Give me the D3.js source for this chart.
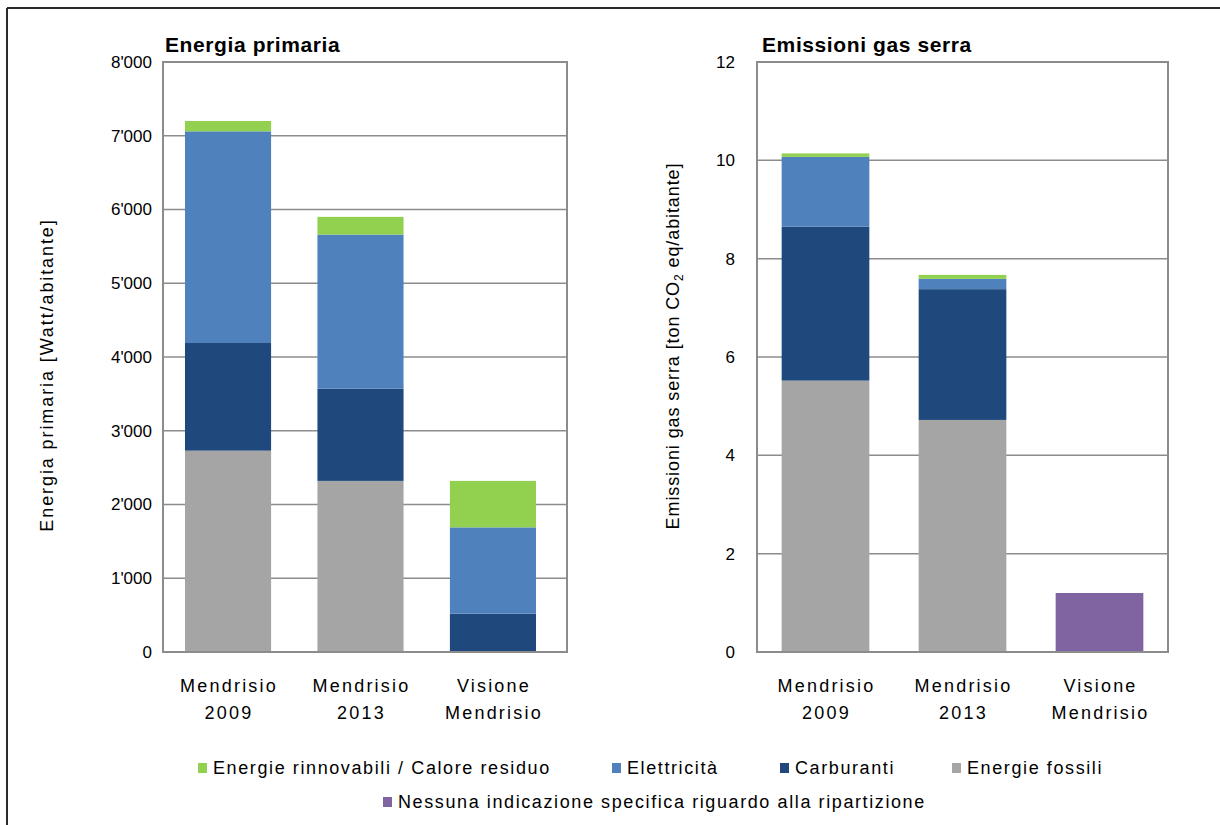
<!DOCTYPE html>
<html>
<head>
<meta charset="utf-8">
<script src="https://cdn.jsdelivr.net/npm/d3@7"></script>
<style>
  html, body { margin: 0; padding: 0; background: #fff; }
  svg { display: block; font-family: "Liberation Sans", Arial, sans-serif; }
</style>
</head>
<body>
<svg id="chart" width="1220" height="825"></svg>
<script>
// Categories (two-line labels)
const categories = ["Mendrisio 2009", "Mendrisio 2013", "Visione Mendrisio"];
const categoryLines = [["Mendrisio", "2009"], ["Mendrisio", "2013"], ["Visione", "Mendrisio"]];

// Primary energy [Watt/abitante]
const energyFossil = [2730, 2320, 0];
const energyFuel   = [1460, 1250, 520];
const energyElec   = [2870, 2090, 1170];
const energyRenew  = [140, 240, 630];
const energyTicks  = [0, 1000, 2000, 3000, 4000, 5000, 6000, 7000, 8000];

// Greenhouse gas emissions [ton CO2eq/abitante]
const emisFossil = [5.52, 4.72, 0];
const emisFuel   = [3.13, 2.66, 0];
const emisElec   = [1.42, 0.21, 0];
const emisRenew  = [0.07, 0.08, 0];
const emisNoSplit = [0, 0, 1.2];
const emisTicks  = [0, 2, 4, 6, 8, 10, 12];

// Series, bottom to top
const seriesKeys = ["fossil", "fuel", "elec", "renew", "nosplit"];
const seriesNames = {
  renew: "Energie rinnovabili / Calore residuo",
  elec: "Elettricità",
  fuel: "Carburanti",
  fossil: "Energie fossili",
  nosplit: "Nessuna indicazione specifica riguardo alla ripartizione"
};
const colors = {
  renew: "#92d050",
  elec: "#4f81bd",
  fuel: "#1f497d",
  fossil: "#a5a5a5",
  nosplit: "#8064a2"
};

const energyRows = categories.map((c, i) => ({
  cat: c, fossil: energyFossil[i], fuel: energyFuel[i], elec: energyElec[i], renew: energyRenew[i], nosplit: 0
}));
const emisRows = categories.map((c, i) => ({
  cat: c, fossil: emisFossil[i], fuel: emisFuel[i], elec: emisElec[i], renew: emisRenew[i], nosplit: emisNoSplit[i]
}));

const svg = d3.select("#chart");

// Outer frame (top and left edges)
svg.append("line").attr("x1", 7).attr("x2", 1220).attr("y1", 8).attr("y2", 8)
  .attr("stroke", "#2b2b2b").attr("stroke-width", 2);
svg.append("line").attr("x1", 7).attr("x2", 7).attr("y1", 8).attr("y2", 825)
  .attr("stroke", "#2b2b2b").attr("stroke-width", 2);

const gridColor = "#8c8c8c";

function panel(cfg) {
  const g = svg.append("g");
  const x = d3.scaleBand().domain(categories).range([cfg.left, cfg.right])
    .paddingInner(cfg.padInner).paddingOuter(cfg.padOuter).align(cfg.align);
  const y = d3.scaleLinear().domain(cfg.domain).range([cfg.bottom, cfg.top]);

  // Horizontal gridlines
  g.append("g").selectAll("line").data(cfg.ticks).join("line")
    .attr("x1", cfg.left).attr("x2", cfg.right)
    .attr("y1", d => y(d)).attr("y2", d => y(d))
    .attr("stroke", gridColor).attr("stroke-width", 1.5);

  // Stacked bars
  const stacked = d3.stack().keys(seriesKeys)(cfg.rows);
  g.append("g").selectAll("g").data(stacked).join("g")
    .attr("fill", s => colors[s.key])
    .selectAll("rect").data(s => s.filter(d => d[1] - d[0] > 0)).join("rect")
    .attr("x", d => x(d.data.cat))
    .attr("width", x.bandwidth())
    .attr("y", d => y(d[1]))
    .attr("height", d => y(d[0]) - y(d[1]));

  // Plot area border
  g.append("rect").attr("x", cfg.left).attr("y", cfg.top)
    .attr("width", cfg.right - cfg.left).attr("height", cfg.bottom - cfg.top)
    .attr("fill", "none").attr("stroke", gridColor).attr("stroke-width", 2);

  // Y axis tick labels
  const yAxis = d3.axisLeft(y).tickValues(cfg.ticks).tickFormat(cfg.format).tickSize(0).tickPadding(cfg.tickPad);
  const ya = g.append("g").attr("transform", `translate(${cfg.left},0)`).call(yAxis);
  ya.select(".domain").remove();
  ya.selectAll("text").attr("font-size", 17).attr("fill", "#000")
    .attr("font-family", "Liberation Sans, Arial, sans-serif");

  // Category labels
  const xl = g.append("g").selectAll("text").data(categories).join("text")
    .attr("x", d => x(d) + x.bandwidth() / 2)
    .attr("y", 692)
    .attr("text-anchor", "middle")
    .attr("font-size", 18)
    .attr("letter-spacing", 2.2)
    .attr("fill", "#000");
  xl.each(function(d, i) {
    const t = d3.select(this);
    categoryLines[i].forEach((line, k) => {
      t.append("tspan").attr("x", x(d) + x.bandwidth() / 2 + 1).attr("dy", k === 0 ? 0 : 27).text(line);
    });
  });

  // Panel title
  g.append("text").attr("x", cfg.titleX).attr("y", 52)
    .attr("font-size", 21).attr("font-weight", "bold").attr("letter-spacing", 0.6).attr("fill", "#000")
    .text(cfg.title);

  return { g, x, y };
}

panel({
  rows: energyRows, domain: [0, 8000], ticks: energyTicks,
  left: 163, right: 567, top: 62, bottom: 652,
  padInner: 0.35, padOuter: 0.2, align: 0.415, tickPad: 11,
  format: d => d === 0 ? "0" : d3.format(",")(d).replace(",", "'"),
  title: "Energia primaria", titleX: 165
});

panel({
  rows: emisRows, domain: [0, 12], ticks: emisTicks,
  left: 757, right: 1168, top: 62, bottom: 652,
  padInner: 0.36, padOuter: 0.18, align: 0.5, tickPad: 22,
  format: d3.format("d"),
  title: "Emissioni gas serra", titleX: 762
});

// Y axis titles
svg.append("text")
  .attr("transform", "translate(53,375) rotate(-90)")
  .attr("text-anchor", "middle").attr("font-size", 18).attr("letter-spacing", 1.9).attr("fill", "#000")
  .text("Energia primaria [Watt/abitante]");

const t2 = svg.append("text")
  .attr("transform", "translate(679,346) rotate(-90)")
  .attr("text-anchor", "middle").attr("font-size", 18).attr("letter-spacing", 0.9).attr("fill", "#000");
t2.append("tspan").text("Emissioni gas serra  [ton CO");
t2.append("tspan").attr("font-size", 12).attr("dy", 4).text("2");
t2.append("tspan").attr("dy", -4).text(" eq/abitante]");

// Legend
const legendItems = [
  { key: "renew", x: 198, y: 768 },
  { key: "elec", x: 612, y: 768 },
  { key: "fuel", x: 780, y: 768 },
  { key: "fossil", x: 952, y: 768 },
  { key: "nosplit", x: 383, y: 802 }
];
const lg = svg.append("g").selectAll("g").data(legendItems).join("g")
  .attr("transform", d => `translate(${d.x},${d.y})`);
lg.append("rect").attr("x", 0).attr("y", -5).attr("width", 9).attr("height", 10)
  .attr("fill", d => colors[d.key]);
lg.append("text").attr("x", 15).attr("y", 6).attr("font-size", 18).attr("letter-spacing", 1.6).attr("fill", "#000")
  .text(d => seriesNames[d.key]);
</script>
</body>
</html>
